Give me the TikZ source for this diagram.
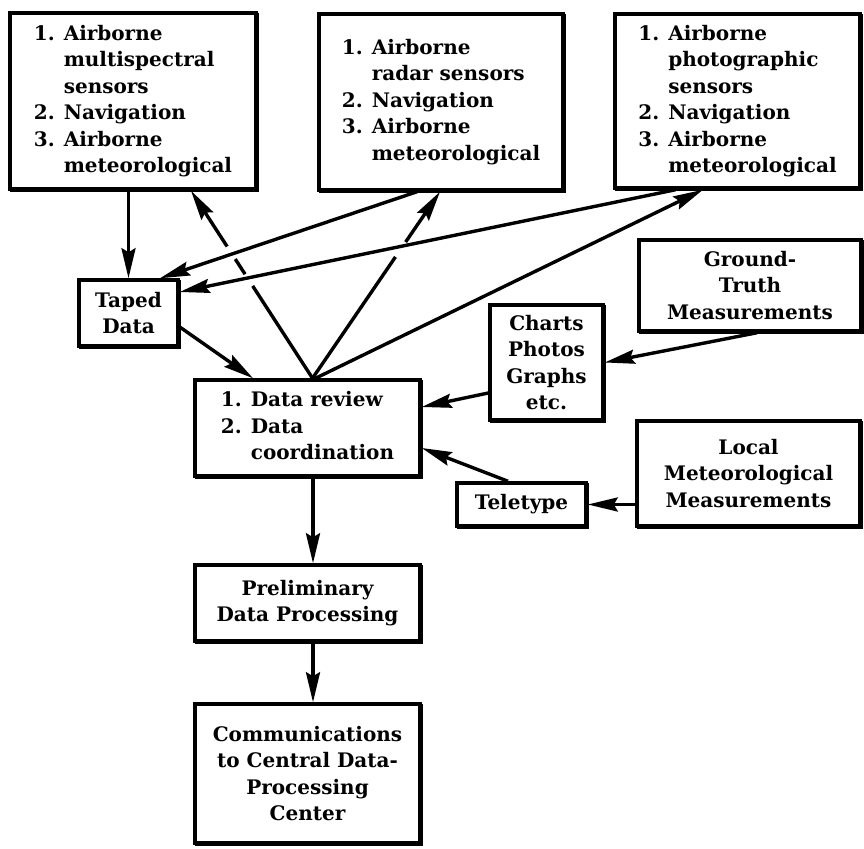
\documentclass[tikz,border=0pt]{standalone}
\usepackage{fontspec}
\setmainfont{DejaVu Serif}
\usetikzlibrary{arrows.meta,calc}

\tikzset{
  box/.style={draw, line width=3.5pt, fill=white, inner sep=0pt, align=center,
    font=\fontsize{20}{26.5}\selectfont\bfseries,
    preaction={draw, line width=3.5pt, transform canvas={shift={(1.3pt,-1.3pt)}}}},
  link/.style={line width=3.4pt, -{Stealth[length=30pt,width=14pt,inset=4pt]}},
}
\newcommand{\itemlist}[1]{\begin{tabular}{@{}l@{\hspace{0.45em}}l@{}}#1\end{tabular}}

\begin{document}
\begin{tikzpicture}[x=1pt,y=-1pt]
\useasboundingbox (0,0) rectangle (864,848);

% sensor packages
\node[box, minimum width=246pt, minimum height=176pt] (ms) at (133,101)
  {\itemlist{1. & Airborne\\ & multispectral\\ & sensors\\ 2. & Navigation\\ 3. & Airborne\\ & meteorological}};
\node[box, minimum width=244pt, minimum height=176pt] (rad) at (441,102)
  {\itemlist{1. & Airborne\\ & radar sensors\\ 2. & Navigation\\ 3. & Airborne\\ & meteorological}};
\node[box, minimum width=245pt, minimum height=174pt] (photo) at (737.5,101)
  {\itemlist{1. & Airborne\\ & photographic\\ & sensors\\ 2. & Navigation\\ 3. & Airborne\\ & meteorological}};

% data handling chain
\node[box, minimum width=99pt, minimum height=66pt] (taped) at (128.5,313) {Taped\\Data};
\node[box, minimum width=225pt, minimum height=96pt] (review) at (307.5,428)
  {\itemlist{1. & Data review\\ 2. & Data\\ & coordination}};
\node[box, minimum width=113pt, minimum height=115pt] (charts) at (546.5,362.5)
  {Charts\\Photos\\Graphs\\etc.};
\node[box, minimum width=222pt, minimum height=91pt] (ground) at (750,285.5)
  {Ground-\\Truth\\Measurements};
\node[box, minimum width=223pt, minimum height=105pt] (local) at (748.5,473.5)
  {Local\\Meteorological\\Measurements};
\node[box, minimum width=129pt, minimum height=43pt] (tele) at (521.5,504.5) {Teletype};
\node[box, minimum width=225pt, minimum height=76pt] (prelim) at (307.5,603)
  {Preliminary\\Data Processing};
\node[box, minimum width=225pt, minimum height=139pt] (comms) at (307.5,773.5)
  {Communications\\to Central Data-\\Processing\\Center};

% connectors
\draw[link] (taped.north |- ms.south) -- (taped.north);
\draw[link, dash pattern=on 110pt off 14pt on 18pt off 15pt on 300pt]
  ([xshift=5pt]review.north) -- ([xshift=58pt]ms.south);
\draw[link, dash pattern=on 147pt off 18pt on 300pt]
  ([xshift=5pt]review.north) -- ([xshift=-1pt]rad.south);
\draw[link] ([xshift=-24pt]rad.south) -- ([xshift=31.5pt]taped.north);
\draw[link] ([xshift=-62pt]photo.south) -- ([yshift=21pt]taped.east);
\draw[link] ([xshift=8pt]review.north) -- ([xshift=-34.5pt]photo.south);
\draw[link] ([yshift=-14pt]taped.east) -- ([xshift=-54.5pt]review.north);
\draw[link] ([xshift=7pt]ground.south) -- (charts.east);
\draw[link] ([yshift=-30.5pt]charts.west) -- ([yshift=21pt]review.east);
\draw[link] ([xshift=-13.5pt]tele.north) -- ([yshift=-20pt]review.east);
\draw[link] (local.west |- tele.east) -- (tele.east);
\draw[link] ([xshift=5.5pt]review.south) -- ([xshift=5.5pt]prelim.north);
\draw[link] ([xshift=5.5pt]prelim.south) -- ([xshift=5.5pt]comms.north);
\end{tikzpicture}
\end{document}
